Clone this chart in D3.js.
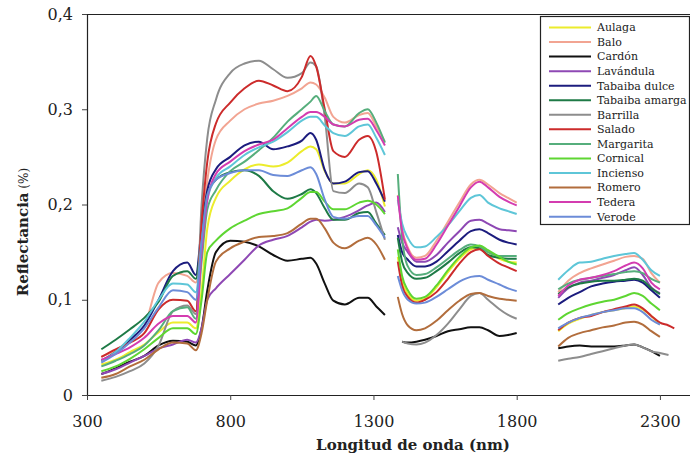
<!DOCTYPE html>
<html>
<head>
<meta charset="utf-8">
<script src="https://cdn.jsdelivr.net/npm/d3@7"></script>
<style>
  body { margin: 0; background: #fff; }
  svg { display: block; }
</style>
</head>
<body>
<svg width="690" height="462"></svg>
<script>
const svg = d3.select("svg");

// species, in legend order
const names = ["Aulaga", "Balo", "Cardón", "Lavándula", "Tabaiba dulce", "Tabaiba amarga", "Barrilla",
    "Salado", "Margarita", "Cornical", "Incienso", "Romero", "Tedera", "Verode"];
const colors = ["#ecec2c", "#f2a492", "#111111", "#8e48b4", "#1c1c7e", "#1e7a46", "#8d8d8d",
    "#cc2b2b", "#56ae7c", "#5ed632", "#5ec6d8", "#b26d3c", "#d43cb0", "#6c8cd8"];

// wavelengths (nm) of the three measured ranges
const wl1 = [350, 400, 450, 500, 550, 600, 650, 680, 700, 720, 750, 800, 850, 900, 950, 1000, 1050, 1080, 1100, 1130, 1160, 1200, 1250, 1280, 1310, 1340];
const wl2 = [1385, 1400, 1420, 1450, 1480, 1520, 1560, 1600, 1640, 1670, 1700, 1740, 1770, 1800];
const wl3 = [1945, 1980, 2020, 2060, 2100, 2140, 2180, 2210, 2240, 2270, 2300, 2330, 2350];

// reflectance, one row per species
const refl1 = [
    [0.032, 0.037, 0.045, 0.053, 0.066, 0.076, 0.076, 0.070, 0.11, 0.175, 0.207, 0.225, 0.237, 0.242, 0.240, 0.244, 0.256, 0.261, 0.258, 0.235, 0.222, 0.222, 0.232, 0.236, 0.226, 0.198],
    [0.040, 0.047, 0.058, 0.072, 0.118, 0.128, 0.125, 0.118, 0.17, 0.225, 0.268, 0.288, 0.300, 0.306, 0.309, 0.314, 0.322, 0.328, 0.326, 0.312, 0.292, 0.286, 0.294, 0.296, 0.282, 0.266],
    [0.022, 0.028, 0.035, 0.041, 0.052, 0.057, 0.056, 0.052, 0.07, 0.11, 0.150, 0.162, 0.161, 0.156, 0.147, 0.141, 0.143, 0.144, 0.138, 0.117, 0.099, 0.095, 0.102, 0.102, 0.093, 0.084],
    [0.022, 0.027, 0.034, 0.041, 0.049, 0.053, 0.058, 0.055, 0.07, 0.10, 0.112, 0.127, 0.142, 0.157, 0.163, 0.167, 0.176, 0.182, 0.184, 0.183, 0.184, 0.187, 0.194, 0.199, 0.202, 0.192],
    [0.036, 0.045, 0.058, 0.073, 0.100, 0.130, 0.139, 0.126, 0.175, 0.215, 0.237, 0.250, 0.262, 0.266, 0.258, 0.261, 0.267, 0.275, 0.268, 0.236, 0.222, 0.224, 0.234, 0.235, 0.222, 0.203],
    [0.048, 0.058, 0.069, 0.081, 0.098, 0.125, 0.130, 0.122, 0.165, 0.21, 0.226, 0.234, 0.236, 0.230, 0.214, 0.206, 0.211, 0.216, 0.212, 0.196, 0.184, 0.184, 0.191, 0.192, 0.180, 0.168],
    [0.015, 0.019, 0.025, 0.033, 0.052, 0.088, 0.094, 0.085, 0.20, 0.27, 0.31, 0.338, 0.348, 0.351, 0.342, 0.333, 0.338, 0.349, 0.345, 0.292, 0.214, 0.212, 0.222, 0.218, 0.192, 0.163],
    [0.040, 0.048, 0.055, 0.065, 0.090, 0.100, 0.099, 0.088, 0.18, 0.245, 0.285, 0.307, 0.322, 0.330, 0.325, 0.319, 0.334, 0.356, 0.345, 0.300, 0.256, 0.250, 0.268, 0.272, 0.255, 0.205],
    [0.030, 0.036, 0.043, 0.052, 0.068, 0.088, 0.092, 0.080, 0.14, 0.195, 0.215, 0.235, 0.245, 0.257, 0.270, 0.287, 0.300, 0.308, 0.314, 0.298, 0.284, 0.282, 0.296, 0.300, 0.286, 0.265],
    [0.025, 0.030, 0.038, 0.048, 0.060, 0.070, 0.070, 0.064, 0.10, 0.15, 0.162, 0.175, 0.183, 0.190, 0.193, 0.196, 0.207, 0.213, 0.213, 0.203, 0.195, 0.195, 0.202, 0.204, 0.200, 0.190],
    [0.035, 0.045, 0.060, 0.077, 0.100, 0.117, 0.116, 0.108, 0.16, 0.205, 0.228, 0.240, 0.252, 0.260, 0.266, 0.276, 0.288, 0.292, 0.292, 0.283, 0.275, 0.272, 0.282, 0.284, 0.270, 0.252],
    [0.018, 0.022, 0.030, 0.037, 0.048, 0.055, 0.054, 0.047, 0.065, 0.10, 0.140, 0.154, 0.161, 0.166, 0.167, 0.170, 0.180, 0.185, 0.185, 0.175, 0.160, 0.154, 0.162, 0.165, 0.158, 0.142],
    [0.037, 0.043, 0.050, 0.060, 0.075, 0.083, 0.083, 0.076, 0.15, 0.205, 0.232, 0.245, 0.256, 0.263, 0.268, 0.280, 0.292, 0.297, 0.297, 0.292, 0.284, 0.282, 0.289, 0.290, 0.278, 0.262],
    [0.034, 0.043, 0.055, 0.070, 0.092, 0.110, 0.108, 0.100, 0.16, 0.21, 0.226, 0.233, 0.236, 0.236, 0.231, 0.230, 0.236, 0.239, 0.232, 0.205, 0.187, 0.185, 0.188, 0.188, 0.178, 0.165]
];

const refl2 = [
    [0.145, 0.12, 0.106, 0.099, 0.101, 0.113, 0.129, 0.143, 0.153, 0.155, 0.150, 0.143, 0.140, 0.139],
    [0.21, 0.175, 0.155, 0.144, 0.146, 0.162, 0.182, 0.202, 0.221, 0.226, 0.221, 0.212, 0.207, 0.202],
    [null, 0.056, 0.055, 0.056, 0.058, 0.062, 0.067, 0.069, 0.071, 0.071, 0.068, 0.062, 0.063, 0.065],
    [0.176, 0.16, 0.15, 0.140, 0.140, 0.147, 0.160, 0.172, 0.183, 0.184, 0.180, 0.174, 0.173, 0.172],
    [0.168, 0.15, 0.142, 0.135, 0.135, 0.140, 0.151, 0.162, 0.172, 0.174, 0.170, 0.163, 0.160, 0.158],
    [0.165, 0.14, 0.128, 0.122, 0.123, 0.130, 0.139, 0.149, 0.155, 0.154, 0.147, 0.144, 0.143, 0.143],
    [null, 0.056, 0.054, 0.053, 0.055, 0.063, 0.075, 0.090, 0.104, 0.107, 0.100, 0.090, 0.084, 0.080],
    [0.14, 0.115, 0.103, 0.097, 0.100, 0.108, 0.122, 0.138, 0.150, 0.153, 0.146, 0.138, 0.134, 0.130],
    [0.232, 0.165, 0.135, 0.126, 0.127, 0.134, 0.143, 0.152, 0.158, 0.156, 0.150, 0.146, 0.146, 0.146],
    [0.153, 0.125, 0.110, 0.101, 0.103, 0.115, 0.131, 0.145, 0.155, 0.157, 0.152, 0.145, 0.140, 0.137],
    [0.205, 0.180, 0.165, 0.155, 0.156, 0.166, 0.178, 0.193, 0.207, 0.210, 0.202, 0.196, 0.193, 0.190],
    [0.103, 0.085, 0.073, 0.068, 0.070, 0.078, 0.089, 0.099, 0.106, 0.107, 0.104, 0.101, 0.100, 0.099],
    [0.209, 0.172, 0.153, 0.142, 0.143, 0.158, 0.178, 0.198, 0.218, 0.224, 0.218, 0.208, 0.203, 0.199],
    [0.125, 0.11, 0.100, 0.096, 0.097, 0.103, 0.111, 0.119, 0.124, 0.125, 0.121, 0.116, 0.112, 0.109]
];

const refl3 = [
    [0.067, 0.075, 0.080, 0.084, 0.087, 0.089, 0.091, 0.093, 0.090, 0.083, 0.074, null, null],
    [0.108, 0.120, 0.128, 0.133, 0.137, 0.141, 0.145, 0.146, 0.143, 0.128, 0.118, null, null],
    [0.049, 0.051, 0.052, 0.051, 0.051, 0.051, 0.052, 0.053, 0.050, 0.046, 0.041, null, null],
    [0.102, 0.112, 0.118, 0.120, 0.123, 0.126, 0.131, 0.134, 0.126, 0.113, 0.107, null, null],
    [0.095, 0.102, 0.108, 0.114, 0.117, 0.119, 0.120, 0.121, 0.118, 0.110, 0.102, null, null],
    [0.106, 0.113, 0.117, 0.119, 0.120, 0.120, 0.121, 0.122, 0.120, 0.112, 0.106, null, null],
    [0.036, 0.038, 0.040, 0.043, 0.046, 0.049, 0.052, 0.053, 0.050, 0.046, 0.044, 0.042, null],
    [0.068, 0.076, 0.081, 0.083, 0.087, 0.090, 0.093, 0.095, 0.091, 0.083, 0.076, 0.073, 0.070],
    [0.111, 0.117, 0.121, 0.123, 0.125, 0.127, 0.129, 0.130, 0.128, 0.122, 0.118, null, null],
    [0.079, 0.086, 0.091, 0.095, 0.098, 0.100, 0.104, 0.107, 0.104, 0.096, 0.089, null, null],
    [0.121, 0.131, 0.139, 0.140, 0.143, 0.146, 0.148, 0.149, 0.142, 0.131, 0.125, null, null],
    [0.051, 0.060, 0.065, 0.068, 0.071, 0.073, 0.076, 0.077, 0.074, 0.067, 0.061, null, null],
    [0.104, 0.115, 0.121, 0.123, 0.126, 0.130, 0.136, 0.139, 0.133, 0.118, 0.111, null, null],
    [0.070, 0.076, 0.081, 0.084, 0.087, 0.089, 0.091, 0.091, 0.087, 0.079, 0.074, null, null]
];

const xTicks = [300, 800, 1300, 1800, 2300];
const yTicks = [0, 0.1, 0.2, 0.3, 0.4];

const x = d3.scaleLinear().domain([300, 2405]).range([87, 690]);
const y = d3.scaleLinear().domain([0, 0.4]).range([395, 14]);

const serif = "'DejaVu Serif', serif";

// frame top line
svg.append("line")
    .attr("x1", 87).attr("x2", 690)
    .attr("y1", 14.5).attr("y2", 14.5)
    .attr("stroke", "#222").attr("stroke-width", 1.2);

// lines
const line = d3.line()
    .defined(d => d[1] != null)
    .x(d => x(d[0]))
    .y(d => y(d[1]))
    .curve(d3.curveMonotoneX);

const segs = [[wl1, refl1], [wl2, refl2], [wl3, refl3]];
names.forEach((n, i) => {
    segs.forEach(([wl, vals]) => {
        svg.append("path")
            .datum(wl.map((w, k) => [w, vals[i][k]]))
            .attr("d", line)
            .attr("fill", "none")
            .attr("stroke", colors[i])
            .attr("stroke-width", 2)
            .attr("stroke-linejoin", "round");
    });
});

// axes
const yAxis = svg.append("g")
    .attr("transform", "translate(87,0)")
    .call(d3.axisLeft(y).tickValues(yTicks).tickSize(5).tickSizeOuter(0).tickPadding(9)
        .tickFormat(d => d === 0 ? "0" : d3.format(".1f")(d).replace(".", ",")));

const xAxis = svg.append("g")
    .attr("transform", "translate(0,395)")
    .call(d3.axisBottom(x).tickValues(xTicks).tickSize(5).tickSizeOuter(0).tickPadding(16)
        .tickFormat(d3.format("d")));

[xAxis, yAxis].forEach(g => {
    g.select(".domain").attr("stroke", "#222").attr("stroke-width", 1.2);
    g.selectAll(".tick line").attr("stroke", "#444");
    g.selectAll("text").attr("font-family", serif).attr("font-size", 16).attr("fill", "#222");
});

// axis titles
svg.append("text")
    .attr("x", 413).attr("y", 450)
    .attr("text-anchor", "middle")
    .attr("font-family", serif).attr("font-size", 15).attr("font-weight", "bold")
    .attr("fill", "#222")
    .text("Longitud de onda (nm)");

const yt = svg.append("text")
    .attr("transform", "translate(28,232) rotate(-90)")
    .attr("text-anchor", "middle")
    .attr("font-family", serif).attr("fill", "#222");
yt.append("tspan").attr("font-size", 15).attr("font-weight", "bold").text("Reflectancia");
yt.append("tspan").attr("font-size", 12).text(" (%)");

// legend
const lg = svg.append("g");
lg.append("rect")
    .attr("x", 540.5).attr("y", 16.5)
    .attr("width", 149).attr("height", 208)
    .attr("fill", "#fff").attr("stroke", "#222").attr("stroke-width", 1.2);

names.forEach((n, i) => {
    const yy = 27.5 + i * 14.55;
    lg.append("line")
        .attr("x1", 549).attr("x2", 591)
        .attr("y1", yy).attr("y2", yy)
        .attr("stroke", colors[i]).attr("stroke-width", 2);
    lg.append("text")
        .attr("x", 597).attr("y", yy)
        .attr("dy", "0.35em")
        .attr("font-family", serif).attr("font-size", 11)
        .attr("fill", "#222")
        .text(n);
});
</script>
</body>
</html>
